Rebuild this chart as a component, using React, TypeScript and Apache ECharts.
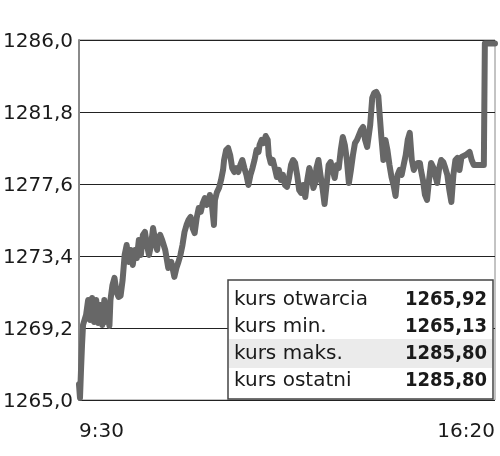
import React, { useEffect, useRef } from "react";
import * as echarts from "echarts";

// minutes after 9:30
const minutes = [0,1,2,3,4,7,9,11,13,15,17,19,21,23,25,26,28,30,31,33,35,37,39,41,43,45,47,49,51,53,55,57,59,61,63,65,67,69,71,73,75,77,78,80,82,85,88,91,94,96,98,100,102,104,106,108,110,112,114,116,118,120,122,124,126,128,129,131,133,134,136,138,140,142,143,145,147,149,151,153,155,157,159,161,163,165,167,169,171,173,175,177,178,180,182,184,186,187,189,191,193,195,197,199,201,203,205,207,209,211,213,215,217,219,221,223,225,227,229,231,233,234,236,238,240,242,244,246,248,250,252,254,256,258,260,262,264,266,268,270,272,274,276,278,280,282,284,285,287,289,291,293,295,296,298,300,302,304,306,308,310,312,314,316,318,320,322,324,326,328,330,332,334,336,337,339,341,343,345,347,349,351,353,355,357,359,361,363,365,367,369,371,373,375,377,381,385,387,389,393,396,399,400,410];

const prices = [1265.92,1265.13,1266.75,1268.21,1269.38,1269.96,1270.83,1269.67,1270.95,1269.55,1270.83,1269.49,1270.54,1269.38,1270.83,1269.55,1270.25,1269.32,1270.83,1271.71,1272.12,1271.30,1271.01,1271.07,1272.00,1273.46,1274.04,1273.05,1273.75,1272.88,1273.75,1273.28,1274.33,1273.46,1274.63,1274.80,1274.04,1273.46,1274.04,1275.03,1274.33,1273.75,1274.33,1274.63,1274.33,1273.75,1272.70,1273.05,1272.18,1272.70,1273.05,1273.46,1274.04,1274.80,1275.21,1275.50,1275.68,1275.03,1274.74,1275.62,1276.20,1275.97,1276.49,1276.78,1276.38,1276.67,1276.96,1276.38,1275.21,1276.67,1277.13,1277.37,1277.83,1278.42,1279.00,1279.58,1279.70,1279.29,1278.53,1278.30,1278.53,1278.30,1278.71,1279.00,1278.53,1278.13,1277.54,1278.13,1278.53,1279.00,1279.58,1279.47,1279.88,1280.17,1279.99,1280.40,1280.17,1279.29,1278.83,1279.00,1278.53,1278.01,1278.42,1277.83,1278.13,1277.54,1277.43,1277.95,1278.71,1279.00,1278.83,1278.13,1277.25,1277.08,1277.54,1276.84,1277.83,1278.53,1278.13,1277.37,1277.72,1278.53,1279.00,1278.13,1277.37,1276.43,1277.54,1278.71,1278.88,1278.42,1277.95,1278.71,1278.53,1279.58,1280.34,1279.88,1279.00,1277.66,1278.42,1279.29,1279.99,1280.17,1280.46,1280.75,1280.93,1280.17,1279.76,1280.17,1281.04,1282.62,1282.91,1282.97,1282.73,1281.92,1280.34,1279.00,1280.17,1279.58,1278.71,1278.01,1277.54,1276.90,1278.13,1278.42,1278.13,1278.71,1279.29,1280.17,1280.58,1279.00,1278.42,1278.71,1278.83,1278.83,1278.42,1277.83,1276.96,1276.67,1277.83,1278.83,1278.59,1278.13,1277.66,1278.53,1279.00,1278.88,1278.53,1278.13,1277.25,1276.55,1278.13,1279.00,1279.12,1278.42,1279.18,1279.29,1279.47,1279.00,1278.71,1278.71,1278.71,1278.71,1285.80,1285.80];

const axisMin = 1265.0;
const axisMax = 1286.0;
const axisStep = 4.2;
const sessionStart = 9 * 60 + 30;
const sessionLength = 410;

const statLabels = ["kurs otwarcia", "kurs min.", "kurs maks.", "kurs ostatni"];
const statValues = ["1265,92", "1265,13", "1285,80", "1285,80"];
const highlightedRow = 2;

const FONT = "'DejaVu Sans', sans-serif";
const FONT_BOLD = "'DejaVu Sans Condensed', 'DejaVu Sans', sans-serif";

export default function App() {
  const ref = useRef<HTMLDivElement>(null);

  useEffect(() => {
    if (!ref.current) return;
    const chart = echarts.init(ref.current, undefined, { renderer: "svg" });

    const fmtTime = (m: number) => {
      const t = sessionStart + m;
      const h = Math.floor(t / 60);
      const mm = t % 60;
      return `${h}:${mm < 10 ? "0" + mm : mm}`;
    };

    const boxX = 228, boxY = 280, boxW = 265, boxH = 119;
    const rowCenters = [298, 325, 352, 379];
    const graphics: any[] = [
      { type: "rect", shape: { x: boxX, y: boxY, width: boxW, height: boxH }, style: { fill: "#fff", stroke: "#444", lineWidth: 1.5 }, z: 10 },
      { type: "rect", shape: { x: boxX + 1, y: 339, width: boxW - 2, height: 29 }, style: { fill: "#ebebeb" }, z: 11 },
    ];
    statLabels.forEach((lab, i) => {
      graphics.push({
        type: "text", x: 234, y: rowCenters[i], z: 12,
        style: { text: lab, font: `20px ${FONT}`, fill: "#1a1a1a", textVerticalAlign: "middle", verticalAlign: "middle" },
      });
      graphics.push({
        type: "text", x: 487, y: rowCenters[i], z: 12,
        style: { text: statValues[i], font: `bold 20px ${FONT_BOLD}`, fill: "#1a1a1a", align: "right", verticalAlign: "middle" },
      });
    });
    void highlightedRow;

    chart.setOption({
      animation: false,
      grid: { left: 76, right: 5, top: 40, bottom: 56, show: true, borderColor: "#888", borderWidth: 1, backgroundColor: "transparent" },
      xAxis: {
        type: "value",
        min: 0,
        max: sessionLength,
        interval: sessionLength,
        axisLine: { show: false },
        axisTick: { show: false },
        splitLine: { show: false },
        axisLabel: {
          formatter: (v: number) => fmtTime(v),
          fontFamily: FONT,
          fontSize: 20,
          color: "#1a1a1a",
          margin: 20,
          alignMinLabel: "left",
          alignMaxLabel: "right",
        },
      },
      yAxis: {
        type: "value",
        min: 0,
        max: axisMax - axisMin,
        interval: axisStep,
        axisLine: { show: true, lineStyle: { color: "#8a8a8a", width: 2 } },
        axisTick: { show: false },
        splitLine: { show: true, lineStyle: { color: "#222", width: 1 } },
        axisLabel: {
          formatter: (v: number) => (axisMin + v).toFixed(1).replace(".", ","),
          fontFamily: FONT,
          fontSize: 20,
          color: "#1a1a1a",
          margin: 6,
        },
      },
      series: [
        {
          type: "line",
          data: minutes.map((m, i) => [m, prices[i] - axisMin]),
          showSymbol: false,
          clip: false,
          lineStyle: { color: "#676767", width: 6, join: "round", cap: "round" },
          z: 3,
        },
      ],
      graphic: graphics,
    });

    return () => chart.dispose();
  }, []);

  return <div ref={ref} style={{ position: "fixed", left: 0, top: 0, width: 500, height: 456 }} />;
}
